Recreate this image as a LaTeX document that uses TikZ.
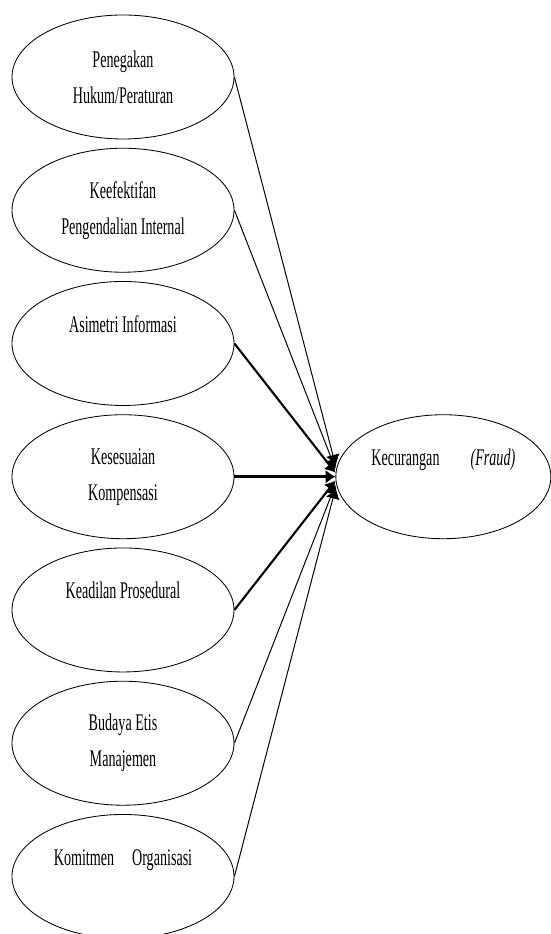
\documentclass[tikz,border=0pt]{standalone}
\usepackage{fontspec}
\setmainfont{Liberation Serif}[FakeStretch=0.59]
\usetikzlibrary{arrows.meta,positioning,shapes.geometric}

\begin{document}
\begin{tikzpicture}[
    >={Latex[length=7pt, width=10pt]},
    font=\fontsize{17}{25.6}\selectfont,
    var/.style={ellipse, draw, line width=0.6pt, minimum width=5.55cm, minimum height=3.1cm, inner sep=0pt, align=center},
    varUp/.style={var, text height=11pt, text depth=27pt},
    lnk/.style={->, line width=0.7pt},
    lnkB/.style={->, line width=1.5pt},
  ]
  \useasboundingbox (0,0) rectangle (13.775,23.35);

  %% ===== INDEPENDENT VARIABLES (left) =====
  \node[var]   (pen) at (3.075, 21.425) {Penegakan\\Hukum/Peraturan};
  \node[var,   below=0.21cm of pen] (efk) {Keefektifan\\Pengendalian Internal};
  \node[varUp, below=0.21cm of efk] (asm) {Asimetri Informasi};
  \node[var,   below=0.21cm of asm] (kmp) {Kesesuaian\\Kompensasi};
  \node[varUp, below=0.21cm of kmp] (pro) {Keadilan Prosedural};
  \node[var,   below=0.21cm of pro] (bud) {Budaya Etis\\Manajemen};
  \node[varUp, below=0.21cm of bud] (kom) {Komitmen\hspace{0.75em}Organisasi};

  %% ===== DEPENDENT VARIABLE (right) =====
  \node[varUp, minimum width=5.375cm, right=2.525cm of kmp] (fraud)
    {Kecurangan\hspace{1.3em}\textit{(Fraud)}};

  %% ===== ARROWS =====
  %% tips spread a little along the west side of fraud
  \draw[lnk]  (pen.east) -- ([yshift=0.3cm]fraud.west);
  \draw[lnk]  (efk.east) -- ([yshift=0.2cm]fraud.west);
  \draw[lnkB] (asm.east) -- ([yshift=0.1cm]fraud.west);
  \draw[lnkB, line width=2.2pt] (kmp.east) -- (fraud.west);
  \draw[lnkB] (pro.east) -- ([yshift=-0.1cm]fraud.west);
  \draw[lnk]  (bud.east) -- ([yshift=-0.2cm]fraud.west);
  \draw[lnk]  (kom.east) -- ([yshift=-0.3cm]fraud.west);

\end{tikzpicture}
\end{document}
